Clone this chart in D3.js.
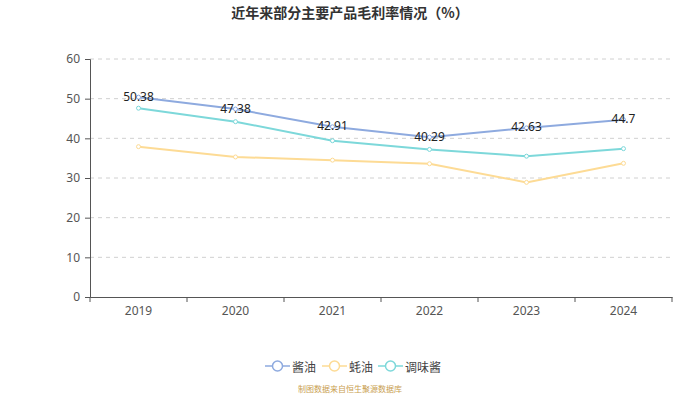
<!DOCTYPE html>
<html>
<head>
<meta charset="utf-8">
<script src="https://cdn.jsdelivr.net/npm/d3@7"></script>
<style>
  body { margin: 0; background: #fff; }
  svg { display: block; font-family: "Noto Sans CJK SC", "Noto Sans", sans-serif; }
</style>
</head>
<body>
<div id="chart"></div>
<script>
const years = ["2019", "2020", "2021", "2022", "2023", "2024"]
const soySauce = [50.38, 47.38, 42.91, 40.29, 42.63, 44.7]
const oysterSauce = [37.9, 35.3, 34.5, 33.6, 28.9, 33.7]
const seasoningSauce = [47.6, 44.2, 39.4, 37.2, 35.5, 37.4]
const yTicks = [0, 10, 20, 30, 40, 50, 60]
const seriesNames = ["酱油", "蚝油", "调味酱"]

const width = 700
const height = 394
const margins = {top: 59, right: 28, bottom: 97, left: 90}

const series = [
    {name: seriesNames[0], values: soySauce, color: "#8eaadf", labels: true},
    {name: seriesNames[1], values: oysterSauce, color: "#fddb95", labels: false},
    {name: seriesNames[2], values: seasoningSauce, color: "#7dd8da", labels: false}
]

const svg = d3.select("#chart")
    .append("svg")
    .attr("width", width)
    .attr("height", height)

const xScale = d3.scaleBand()
    .domain(years)
    .range([margins.left, width - margins.right])

const yScale = d3.scaleLinear()
    .domain([0, 60])
    .range([height - margins.bottom, margins.top])

// title
svg.append("text")
    .attr("x", width / 2)
    .attr("y", 12)
    .attr("text-anchor", "middle")
    .attr("dominant-baseline", "central")
    .attr("font-size", 14)
    .attr("font-weight", "bold")
    .attr("fill", "#333")
    .text("近年来部分主要产品毛利率情况（%）")

// grid
svg.append("g")
    .selectAll("line")
    .data(yTicks.filter(d => d > 0))
    .enter()
    .append("line")
    .attr("x1", margins.left)
    .attr("x2", width - margins.right)
    .attr("y1", d => yScale(d))
    .attr("y2", d => yScale(d))
    .attr("stroke", "#d0d0d0")
    .attr("stroke-dasharray", "4,4")

// y axis
const yAxis = svg.append("g")
    .attr("transform", `translate(${margins.left},0)`)
    .call(d3.axisLeft(yScale).tickValues(yTicks).tickSize(5).tickPadding(5))
yAxis.select(".domain").attr("stroke", "#555")
yAxis.selectAll(".tick line").attr("stroke", "#555")
yAxis.selectAll("text").attr("font-size", 12).attr("fill", "#555").attr("font-family", "'Noto Sans', sans-serif")

// x axis
const xAxis = svg.append("g")
    .attr("transform", `translate(0,${yScale(0)})`)
    .call(d3.axisBottom(xScale).tickSize(0).tickPadding(9))
xAxis.select(".domain").attr("stroke", "#555")
xAxis.selectAll("text").attr("font-size", 12).attr("fill", "#555").attr("font-family", "'Noto Sans', sans-serif")
// ticks at band edges
const edges = years.map(d => xScale(d)).concat([xScale(years[years.length - 1]) + xScale.bandwidth()])
xAxis.selectAll(".edge")
    .data(edges)
    .enter()
    .append("line")
    .attr("x1", d => d)
    .attr("x2", d => d)
    .attr("y1", 0)
    .attr("y2", 5)
    .attr("stroke", "#555")

const cx = d => xScale(d) + xScale.bandwidth() / 2
const line = d3.line()
    .x((d, i) => cx(years[i]))
    .y(d => yScale(d))

series.forEach(s => {
    const g = svg.append("g")
    g.append("path")
        .datum(s.values)
        .attr("fill", "none")
        .attr("stroke", s.color)
        .attr("stroke-width", 2)
        .attr("d", line)
    g.selectAll("circle")
        .data(s.values)
        .enter()
        .append("circle")
        .attr("cx", (d, i) => cx(years[i]))
        .attr("cy", d => yScale(d))
        .attr("r", 2)
        .attr("fill", "#fff")
        .attr("stroke", s.color)
        .attr("stroke-width", 1)
})

// value labels on soy sauce line
svg.append("g")
    .selectAll("text")
    .data(soySauce)
    .enter()
    .append("text")
    .attr("x", (d, i) => cx(years[i]))
    .attr("y", d => yScale(d) - 1)
    .attr("text-anchor", "middle")
    .attr("dominant-baseline", "central")
    .attr("font-size", 12)
    .attr("fill", "#222")
    .attr("font-family", "'Noto Sans', sans-serif")
    .text(d => d)

// legend
const legendX = [265, 322, 378]
const legend = svg.append("g")
series.forEach((s, i) => {
    const g = legend.append("g").attr("transform", `translate(${legendX[i]},366)`)
    g.append("line").attr("x1", 0).attr("x2", 25).attr("y1", 0).attr("y2", 0)
        .attr("stroke", s.color).attr("stroke-width", 1.5)
    g.append("circle").attr("cx", 12.5).attr("cy", 0).attr("r", 5)
        .attr("fill", "#fff").attr("stroke", s.color).attr("stroke-width", 1.5)
    g.append("text").attr("x", 27).attr("y", 0)
        .attr("dominant-baseline", "central")
        .attr("font-size", 12)
        .attr("fill", "#444")
        .text(s.name)
})

// source note
svg.append("text")
    .attr("x", width / 2)
    .attr("y", 388)
    .attr("text-anchor", "middle")
    .attr("dominant-baseline", "central")
    .attr("font-size", 8)
    .attr("fill", "#c9a050")
    .text("制图数据来自恒生聚源数据库")
</script>
</body>
</html>
